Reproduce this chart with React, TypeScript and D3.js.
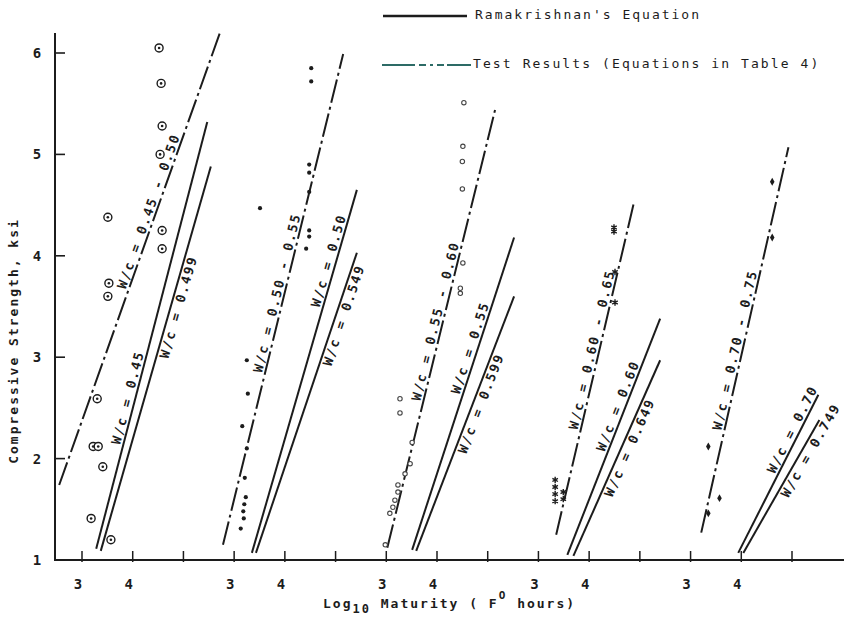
import * as d3 from 'd3';

// Each line: [log10 maturity start, strength start, log10 maturity end, strength end]
const testLines = [
  [2.55, 1.74, 5.72, 6.2],
  [2.78, 1.15, 5.15, 5.99],
  [3.02, 1.12, 5.16, 5.47],
  [3.35, 1.25, 4.89, 4.54],
  [3.21, 1.27, 4.93, 5.07],
];
const ramLinesA = [
  [3.28, 1.11, 5.47, 5.32],
  [3.35, 1.07, 5.42, 4.65],
  [3.51, 1.1, 5.52, 4.18],
  [3.57, 1.05, 5.4, 3.38],
  [3.94, 1.07, 5.52, 2.63],
];
const ramLinesB = [
  [3.37, 1.09, 5.54, 4.88],
  [3.43, 1.07, 5.42, 4.03],
  [3.59, 1.09, 5.52, 3.6],
  [3.69, 1.04, 5.4, 2.97],
  [4.04, 1.07, 5.54, 2.38],
];

const testLabels = ['W/c = 0.45 - 0.50', 'W/c = 0.50 - 0.55', 'W/c = 0.55 - 0.60', 'W/c = 0.60 - 0.65', 'W/c = 0.70 - 0.75'];
const ramLabelsA = ['W/c = 0.45', 'W/c = 0.50', 'W/c = 0.55', 'W/c = 0.60', 'W/c = 0.70'];
const ramLabelsB = ['W/c = 0.499', 'W/c = 0.549', 'W/c = 0.599', 'W/c = 0.649', 'W/c = 0.749'];

// Measured points [log10 maturity, strength ksi]
const points1 = [
  [4.52, 6.05], [4.56, 5.7], [4.58, 5.28], [4.54, 5.0], [3.51, 4.38], [4.58, 4.25], [4.58, 4.07],
  [3.53, 3.73], [3.51, 3.6], [3.3, 2.59], [3.22, 2.12], [3.32, 2.12], [3.41, 1.92], [3.18, 1.41], [3.57, 1.2],
];
const points2 = [
  [4.52, 5.85], [4.52, 5.72], [4.48, 4.9], [4.48, 4.82], [4.48, 4.63], [3.51, 4.47], [4.48, 4.25],
  [4.48, 4.19], [4.42, 4.07], [3.25, 2.97], [3.27, 2.64], [3.16, 2.32], [3.25, 2.1], [3.21, 1.81],
  [3.23, 1.62], [3.2, 1.55], [3.18, 1.48], [3.19, 1.41], [3.13, 1.31],
];
const points3 = [
  [4.53, 5.51], [4.51, 5.08], [4.5, 4.93], [4.5, 4.66], [4.51, 3.93], [4.46, 3.68], [4.46, 3.63],
  [3.27, 2.59], [3.27, 2.45], [3.51, 2.16], [3.47, 1.95], [3.37, 1.85], [3.23, 1.74], [3.23, 1.67],
  [3.17, 1.59], [3.13, 1.52], [3.07, 1.46], [2.98, 1.15],
];
const points4 = [
  [4.49, 4.28], [4.49, 4.24], [4.51, 3.84], [4.51, 3.54],
  [3.33, 1.79], [3.33, 1.72], [3.33, 1.65], [3.33, 1.58], [3.49, 1.67], [3.49, 1.6],
];
const points5 = [[4.61, 4.73], [4.61, 4.18], [3.35, 2.12], [3.57, 1.61], [3.35, 1.46]];
const pointGroups = [points1, points2, points3, points4, points5];

const yTicks = [1, 2, 3, 4, 5, 6];
const xTickLabels = ['3', '4'];

// label placement along each line: fraction along the line
const testLabelAt = [0.6, 0.51, 0.51, 0.55, 0.47];
const ramLabelAAt = [0.35, 0.8, 0.64, 0.62, 0.76];
const ramLabelBAt = [0.64, 0.8, 0.59, 0.57, 0.8];

const INK = '#1c1c1c';
const FONT = '"DejaVu Sans Mono", "Liberation Mono", monospace';

const x = d3.scaleLinear().domain([0, 14]).range([82, 792]);
const y = d3.scaleLinear().domain([1, 6]).range([560, 53]);
const gx = (i: number, m: number) => x(3 * i + m - 3);

function ends(i: number, l: number[]) {
  return [gx(i, l[0]), y(l[1]), gx(i, l[2]), y(l[3])];
}

function LineLabel({ i, line, t, text, below }: { i: number; line: number[]; t: number; text: string; below?: boolean }) {
  const [x0, y0, x1, y1] = ends(i, line);
  const ang = (Math.atan2(y1 - y0, x1 - x0) * 180) / Math.PI;
  const px = x0 + t * (x1 - x0);
  const py = y0 + t * (y1 - y0);
  return (
    <text
      transform={`translate(${px},${py}) rotate(${ang})`}
      y={below ? 12 : -3}
      textAnchor="middle"
      fontFamily={FONT}
      fontSize={13}
      fontWeight="bold"
      letterSpacing={1.8}
      fill={INK}
    >
      {text}
    </text>
  );
}

function Marker({ g, cx, cy }: { g: number; cx: number; cy: number }) {
  if (g === 0)
    return (
      <g>
        <circle cx={cx} cy={cy} r={4} fill="white" stroke={INK} strokeWidth={1.4} />
        <circle cx={cx} cy={cy} r={1.3} fill={INK} />
      </g>
    );
  if (g === 1) return <circle cx={cx} cy={cy} r={2.1} fill={INK} />;
  if (g === 2) return <circle cx={cx} cy={cy} r={2.2} fill="white" stroke="#444" strokeWidth={1.1} />;
  if (g === 3)
    return (
      <path
        transform={`translate(${cx},${cy})`}
        d={d3.symbol(d3.symbolAsterisk, 28)() || ''}
        stroke={INK}
        strokeWidth={1.4}
        fill="none"
      />
    );
  return <path transform={`translate(${cx},${cy})`} d={d3.symbol(d3.symbolDiamond, 18)() || ''} fill={INK} />;
}

export default function App() {
  const groups = d3.range(5);
  return (
    <svg width={844} height={618} style={{ display: 'block', position: 'absolute', left: 0, top: 0, background: '#fff' }}>
      {/* legend */}
      <line x1={383} x2={467} y1={16} y2={16} stroke={INK} strokeWidth={2.5} />
      <text x={475} y={19} fontFamily={FONT} fontSize={13} letterSpacing={2} fill={INK}>
        Ramakrishnan's Equation
      </text>
      <line x1={382} x2={471} y1={65} y2={65} stroke="#2d6b66" strokeWidth={2} strokeDasharray="33,4,7,4,3,4,7,3,40" />
      <text x={473} y={68} fontFamily={FONT} fontSize={13} letterSpacing={2.1} fill={INK}>
        Test Results (Equations in Table 4)
      </text>

      {/* axes */}
      <line x1={55} x2={55} y1={33} y2={561} stroke={INK} strokeWidth={2} />
      <line x1={54} x2={844} y1={560} y2={560} stroke={INK} strokeWidth={2} />
      {yTicks.map((v) => (
        <g key={v}>
          <line x1={55} x2={65} y1={y(v)} y2={y(v)} stroke={INK} strokeWidth={1.6} />
          <text x={37} y={y(v) + 5} textAnchor="middle" fontFamily={FONT} fontSize={14} fontWeight="bold" fill={INK}>
            {v}
          </text>
        </g>
      ))}
      {d3.range(15).map((k) => (
        <line key={k} x1={x(k)} x2={x(k)} y1={551} y2={562} stroke={INK} strokeWidth={1.5} />
      ))}
      {groups.map((i) =>
        xTickLabels.map((lab, j) => (
          <text
            key={`${i}-${j}`}
            x={x(3 * i + j) - 4}
            y={589}
            textAnchor="middle"
            fontFamily={FONT}
            fontSize={14}
            fontWeight="bold"
            fill={INK}
          >
            {lab}
          </text>
        )),
      )}
      <text
        transform="translate(18,341) rotate(-90)"
        textAnchor="middle"
        fontFamily={FONT}
        fontSize={13}
        fontWeight="bold"
        letterSpacing={2}
        fill={INK}
      >
        Compressive Strength, ksi
      </text>
      <text x={323} y={608} fontFamily={FONT} fontSize={13} fontWeight="bold" letterSpacing={2} fill={INK}>
        Log
        <tspan dy={5} fontSize={12}>10</tspan>
        <tspan dy={-5}> Maturity ( F</tspan>
        <tspan dy={-9} fontSize={11}>O</tspan>
        <tspan dy={9}> hours)</tspan>
      </text>

      {/* lines */}
      {groups.map((i) => {
        const t = ends(i, testLines[i]);
        const a = ends(i, ramLinesA[i]);
        const b = ends(i, ramLinesB[i]);
        return (
          <g key={i}>
            <line x1={t[0]} y1={t[1]} x2={t[2]} y2={t[3]} stroke={INK} strokeWidth={2} strokeDasharray="24,4,3,4" />
            <line x1={a[0]} y1={a[1]} x2={a[2]} y2={a[3]} stroke={INK} strokeWidth={2} />
            <line x1={b[0]} y1={b[1]} x2={b[2]} y2={b[3]} stroke={INK} strokeWidth={2} />
          </g>
        );
      })}

      {/* points */}
      {pointGroups.map((pts, g) =>
        pts.map((p, k) => <Marker key={`${g}-${k}`} g={g} cx={gx(g, p[0])} cy={y(p[1])} />),
      )}

      {/* line labels */}
      {groups.map((i) => (
        <g key={i}>
          <LineLabel i={i} line={testLines[i]} t={testLabelAt[i]} text={testLabels[i]} />
          <LineLabel i={i} line={ramLinesA[i]} t={ramLabelAAt[i]} text={ramLabelsA[i]} />
          <LineLabel i={i} line={ramLinesB[i]} t={ramLabelBAt[i]} text={ramLabelsB[i]} below />
        </g>
      ))}
    </svg>
  );
}
